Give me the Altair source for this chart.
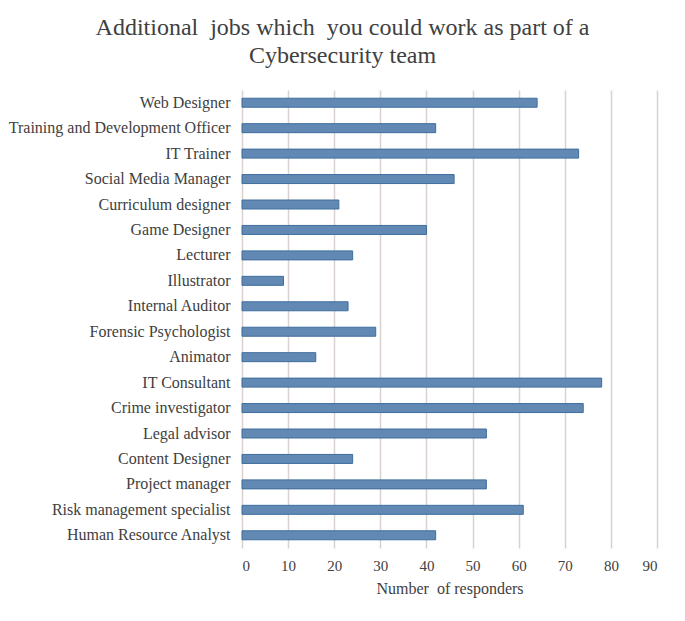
import altair as alt
import pandas as pd

jobs = [
    "Web Designer", "Training and Development Officer", "IT Trainer",
    "Social Media Manager", "Curriculum designer", "Game Designer", "Lecturer",
    "Illustrator", "Internal Auditor", "Forensic Psychologist", "Animator",
    "IT Consultant", "Crime investigator", "Legal advisor", "Content Designer",
    "Project manager", "Risk management specialist", "Human Resource Analyst",
]
responders = [64, 42, 73, 46, 21, 40, 24, 9, 23, 29, 16, 78, 74, 53, 24, 53, 61, 42]
x_ticks = [0, 10, 20, 30, 40, 50, 60, 70, 80, 90]

df = pd.DataFrame({"job": jobs, "n": responders})

FONT = "Liberation Serif"
TXT = "#404040"

chart = (
    alt.Chart(df)
    .mark_bar(size=9, color="#6289b4", stroke="#3e6e9e", strokeWidth=1)
    .encode(
        x=alt.X(
            "n:Q",
            scale=alt.Scale(domain=[0, 90], nice=False),
            axis=alt.Axis(
                values=x_ticks,
                title="Number\u00a0 of responders",
                domain=False,
                ticks=False,
                labelPadding=10,
                labelFontSize=15,
                titlePadding=7,
                grid=True,
                gridColor="#d9d2ce",
                gridWidth=1.5,
            ),
        ),
        y=alt.Y(
            "job:N",
            sort=jobs,
            scale=alt.Scale(paddingInner=0.6, paddingOuter=0.3),
            axis=alt.Axis(title=None, domain=False, ticks=False, labelPadding=12,
                          labelFontSize=16, labelLimit=400),
        ),
    )
    .properties(
        width=415,
        height=458,
        title=alt.TitleParams(
            text=["Additional\u00a0 jobs which\u00a0 you could work as part of a", "Cybersecurity team"],
            font=FONT,
            fontSize=24,
            fontWeight="normal",
            color=TXT,
            anchor="middle",
            dx=-107,
            offset=22,
            lineHeight=28,
        ),
        autosize=alt.AutoSizeParams(type="none"),
        padding={"left": 234, "top": 82, "right": 20, "bottom": 60},
    )
    .configure_axis(
        labelFont=FONT,
        labelColor=TXT,
        titleFont=FONT,
        titleFontSize=16,
        titleFontWeight="normal",
        titleColor=TXT,
    )
    .configure_view(stroke=None)
)

chart.save("out.html", embed_options={"renderer": "svg", "actions": False})
